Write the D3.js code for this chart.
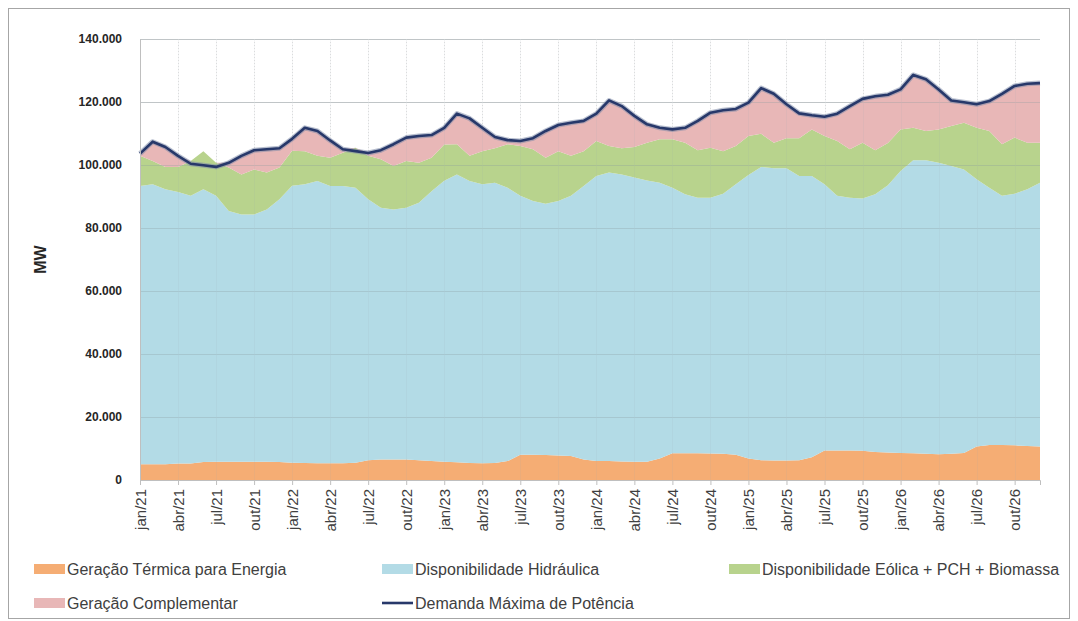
<!DOCTYPE html>
<html>
<head>
<meta charset="utf-8">
<script src="https://cdn.jsdelivr.net/npm/d3@7"></script>
<style>
  html, body { margin: 0; padding: 0; background: #fff; }
  svg { display: block; font-family: "Liberation Sans", Arial, sans-serif; }
</style>
</head>
<body>
<script>
// Months and years of the horizon (jan/21 .. dez/26)
const monthNames = ["jan", "fev", "mar", "abr", "mai", "jun", "jul", "ago", "set", "out", "nov", "dez"];
const years = ["21", "22", "23", "24", "25", "26"];
const yTicks = [0, 20000, 40000, 60000, 80000, 100000, 120000, 140000];

// Series values, MW
const termica = [
  5000, 5000, 5000, 5200, 5200, 5700, 5800, 5800, 5800, 5800, 5800, 5700,
  5500, 5400, 5300, 5300, 5300, 5500, 6300, 6500, 6500, 6500, 6300, 6000,
  5800, 5600, 5400, 5300, 5400, 6000, 8000, 8000, 7900, 7800, 7600, 6500,
  6000, 6000, 5900, 5800, 5800, 6800, 8500, 8500, 8500, 8400, 8300, 8000,
  6800, 6300, 6200, 6200, 6300, 7200, 9400, 9400, 9400, 9300, 8900, 8700,
  8600, 8500, 8300, 8200, 8300, 8600, 10600, 11100, 11100, 11000, 10800, 10600
];
const hidraulica = [
  88300, 88900, 87300, 86200, 85000, 86600, 84400, 79600, 78500, 78500, 80100, 83400,
  87900, 88500, 89600, 88000, 88000, 87300, 82800, 79900, 79400, 79900, 81700, 85700,
  89200, 91400, 89500, 88600, 89000, 86800, 82200, 80600, 79800, 80800, 82600, 86800,
  90500, 91600, 91100, 90200, 89300, 87600, 84300, 82200, 81100, 81200, 82600, 85900,
  90000, 93100, 92800, 92800, 90200, 89300, 84500, 80800, 80200, 80100, 81800, 84900,
  89500, 93000, 93200, 92500, 91400, 90000, 84900, 81700, 79100, 79900, 81500, 83800
];
const eolicaPchBio = [
  9600, 7400, 7100, 8000, 11100, 12100, 10500, 13800, 12700, 14300, 11700, 10100,
  11100, 10500, 8000, 9000, 10600, 12700, 13800, 15400, 13800, 14900, 12700, 10600,
  11500, 9600, 8000, 10500, 10900, 13800, 15800, 16400, 14600, 15800, 12700, 11100,
  11100, 8400, 8300, 9700, 12000, 13800, 15400, 16400, 15100, 15900, 13500, 12100,
  12400, 10500, 8100, 9500, 12000, 14800, 15300, 17400, 15400, 17700, 14000, 13400,
  13200, 10300, 9300, 10600, 12700, 14800, 16300, 18000, 16400, 17800, 14800, 12700
];
const complementar = [
  700, 6100, 6300, 3500, 0, 0, 0, 1500, 5900, 6100, 7400, 6100,
  3800, 7400, 7900, 5500, 1100, 0, 900, 2900, 6900, 7400, 8500, 7200,
  5300, 9700, 11900, 7400, 3600, 1300, 1600, 3500, 8500, 8300, 10500, 9600,
  8700, 14500, 13400, 9900, 5800, 3600, 3100, 4700, 9300, 11100, 13000, 11800,
  10600, 14500, 15500, 10800, 7900, 4500, 6100, 8700, 13700, 13900, 17100, 15300,
  12700, 16800, 16400, 12700, 8100, 6500, 7500, 9500, 16000, 16400, 18700, 18900
];
const demanda = [
  103600, 107400, 105700, 102900, 100400, 99900, 99400, 100700, 102900, 104700, 105000, 105300,
  108300, 111800, 110800, 107800, 105000, 104400, 103800, 104700, 106600, 108700, 109200, 109500,
  111800, 116300, 114800, 111800, 108900, 107900, 107600, 108500, 110800, 112700, 113400, 114000,
  116300, 120500, 118700, 115600, 112900, 111800, 111300, 111800, 114000, 116600, 117400, 117800,
  119800, 124400, 122600, 119300, 116400, 115800, 115300, 116300, 118700, 121000, 121800, 122300,
  124000, 128600, 127200, 124000, 120500, 119900, 119300, 120300, 122600, 125100, 125800, 126000
];

const seriesNames = [
  "Geração Térmica para Energia",
  "Disponibilidade Hidráulica",
  "Disponibilidade Eólica + PCH + Biomassa",
  "Geração Complementar"
];
const lineName = "Demanda Máxima de Potência";
const colors = ["#f5ad74", "#b3dbe6", "#b8d38d", "#e8b7b7"];
const lineColor = "#27386a";

const categories = [];
years.forEach(y => monthNames.forEach(m => categories.push(m + "/" + y)));

const rows = categories.map((c, i) => ({
  i: i,
  c: c,
  s0: termica[i],
  s1: hidraulica[i],
  s2: eolicaPchBio[i],
  s3: complementar[i],
  d: demanda[i]
}));

const width = 1078, height = 621;
const margin = { left: 140, right: 38, top: 39, bottom: 141 };

const svg = d3.select("body").append("svg")
  .attr("width", width)
  .attr("height", height);

// outer frame
svg.append("rect")
  .attr("x", 8.5).attr("y", 8.5)
  .attr("width", 1061).attr("height", 610)
  .attr("fill", "none")
  .attr("stroke", "#a6a6a6");

const x = d3.scaleLinear()
  .domain([0, categories.length - 1])
  .range([margin.left, width - margin.right]);
const y = d3.scaleLinear()
  .domain([0, 140000])
  .range([height - margin.bottom, margin.top]);

const fmt = d3.formatLocale({ decimal: ",", thousands: ".", grouping: [3], currency: ["", ""] }).format(",d");

// grid
const grid = svg.append("g");
grid.selectAll("line.h")
  .data(yTicks)
  .join("line")
  .attr("class", "h")
  .attr("x1", x(0)).attr("x2", x(categories.length - 1))
  .attr("y1", d => y(d) + 0.5).attr("y2", d => y(d) + 0.5)
  .attr("stroke", "#d9d9d9");

const tickIdx = d3.range(0, categories.length, 3);
grid.selectAll("line.v")
  .data(tickIdx.filter(i => i > 0))
  .join("line")
  .attr("class", "v")
  .attr("x1", d => Math.round(x(d)) + 0.5).attr("x2", d => Math.round(x(d)) + 0.5)
  .attr("y1", y(140000)).attr("y2", y(0))
  .attr("stroke", "#e3e3e3")
  .attr("stroke-dasharray", "1,2");

// stacked areas
const keys = ["s0", "s1", "s2", "s3"];
const stack = d3.stack().keys(keys)(rows);
const area = d3.area()
  .x(d => x(d.data.i))
  .y0(d => y(d[0]))
  .y1(d => y(d[1]));

svg.append("g")
  .selectAll("path")
  .data(stack)
  .join("path")
  .attr("fill", (d, k) => colors[k])
  .attr("d", area);

// faint grid over the fills
const over = svg.append("g").attr("opacity", 0.3);
over.selectAll("line.h")
  .data(yTicks.filter(t => t > 0))
  .join("line")
  .attr("x1", x(0)).attr("x2", x(categories.length - 1))
  .attr("y1", d => y(d) + 0.5).attr("y2", d => y(d) + 0.5)
  .attr("stroke", "#8a9aa0");
over.selectAll("line.v")
  .data(tickIdx.filter(i => i > 0))
  .join("line")
  .attr("x1", d => Math.round(x(d)) + 0.5).attr("x2", d => Math.round(x(d)) + 0.5)
  .attr("y1", y(140000)).attr("y2", y(0))
  .attr("stroke", "#9aaab0")
  .attr("stroke-opacity", 0.35);

// demand line
const line = d3.line()
  .x(d => x(d.i))
  .y(d => y(d.d));
svg.append("path")
  .datum(rows)
  .attr("fill", "none")
  .attr("stroke", "#7d8aa8")
  .attr("stroke-opacity", 0.55)
  .attr("stroke-width", 5)
  .attr("stroke-linejoin", "round")
  .attr("d", line);
svg.append("path")
  .datum(rows)
  .attr("fill", "none")
  .attr("stroke", lineColor)
  .attr("stroke-width", 2.6)
  .attr("stroke-linejoin", "round")
  .attr("d", line);

// axes
const yAxis = svg.append("g")
  .attr("transform", `translate(${margin.left},0)`)
  .call(d3.axisLeft(y).tickValues(yTicks).tickFormat(fmt).tickSize(0).tickPadding(18));
yAxis.select(".domain").attr("stroke", "#bfbfbf");
yAxis.selectAll("text")
  .attr("font-size", 12)
  .attr("font-weight", "bold")
  .attr("fill", "#262626")
  .attr("font-family", "Liberation Sans, Arial, sans-serif");

const xAxis = svg.append("g")
  .attr("transform", `translate(0,${y(0)})`)
  .call(d3.axisBottom(x).tickValues(tickIdx).tickFormat(i => categories[i]).tickSize(5));
xAxis.select(".domain").attr("stroke", "#bfbfbf");
xAxis.selectAll(".tick line").attr("stroke", "#bfbfbf");
xAxis.selectAll("text")
  .attr("font-size", 15)
  .attr("fill", "#404040")
  .attr("font-family", "Liberation Sans, Arial, sans-serif")
  .attr("text-anchor", "end")
  .attr("transform", "rotate(-90)")
  .attr("x", -9)
  .attr("y", 0)
  .attr("dy", "0.35em");

svg.append("text")
  .attr("transform", `translate(46,${(y(0) + y(140000)) / 2}) rotate(-90)`)
  .attr("text-anchor", "middle")
  .attr("font-size", 16)
  .attr("font-weight", "bold")
  .attr("fill", "#262626")
  .text("MW");

// legend
const legendItems = [
  { name: seriesNames[0], color: colors[0], x: 34, y: 569, type: "area" },
  { name: seriesNames[1], color: colors[1], x: 382, y: 569, type: "area" },
  { name: seriesNames[2], color: colors[2], x: 729, y: 569, type: "area" },
  { name: seriesNames[3], color: colors[3], x: 34, y: 603, type: "area" },
  { name: lineName, color: lineColor, x: 382, y: 603, type: "line" }
];
const lg = svg.append("g")
  .selectAll("g")
  .data(legendItems)
  .join("g")
  .attr("transform", d => `translate(${d.x},${d.y})`);
lg.filter(d => d.type === "area").append("rect")
  .attr("x", 0).attr("y", -5)
  .attr("width", 31).attr("height", 10)
  .attr("fill", d => d.color);
lg.filter(d => d.type === "line").append("line")
  .attr("x1", 0).attr("x2", 31)
  .attr("y1", 0).attr("y2", 0)
  .attr("stroke", d => d.color)
  .attr("stroke-width", 2.6);
lg.append("text")
  .attr("x", 33)
  .attr("dy", "0.35em")
  .attr("font-size", 16)
  .attr("fill", "#404040")
  .text(d => d.name);
</script>
</body>
</html>
